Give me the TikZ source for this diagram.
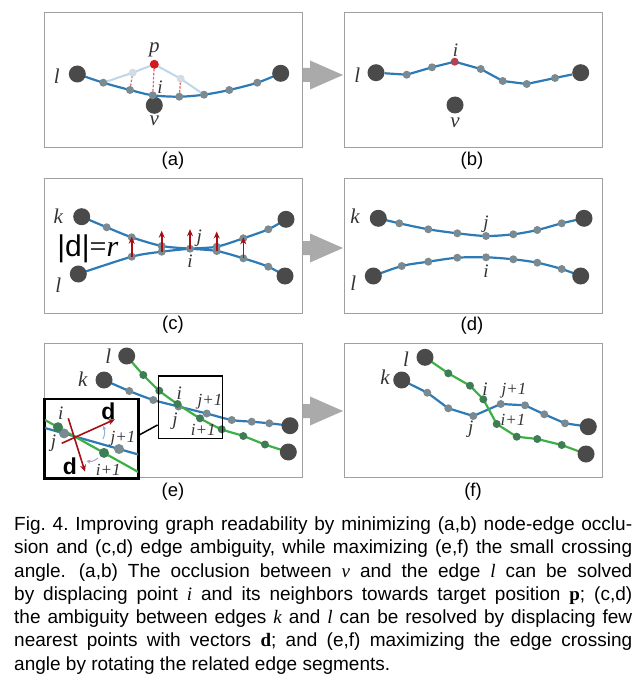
\documentclass[tikz,border=0pt]{standalone}
\usepackage{fontspec}
\setmainfont{Liberation Sans}
\newfontfamily\serf{Liberation Serif}
\usetikzlibrary{arrows.meta,backgrounds}
\definecolor{edgeblue}{HTML}{2C7BB6}
\definecolor{edgegreen}{HTML}{3DB045}
\definecolor{dotgray}{HTML}{7A8A90}
\definecolor{biggray}{HTML}{4A4A4A}
\definecolor{dotgreen}{HTML}{3E7D55}
\definecolor{framegray}{HTML}{A0A0A0}
\definecolor{arrowgray}{HTML}{AAAAAA}
\definecolor{darkred}{HTML}{A50F15}
\definecolor{pred}{HTML}{D7191C}
\definecolor{lightblue}{HTML}{BDD7EA}
\definecolor{lightdot}{HTML}{D3DCE3}
\definecolor{dashred}{HTML}{E06666}
\definecolor{ibrown}{HTML}{B0444F}
\definecolor{labcol}{HTML}{333333}
\definecolor{arcblue}{HTML}{8FB3D9}
\definecolor{arcpurple}{HTML}{B39AC0}
\tikzset{
 frame/.style={draw=framegray, line width=1pt},
 big/.style={circle, fill=biggray, minimum size=17pt, inner sep=0pt},
 dot/.style={circle, fill=dotgray, minimum size=8pt, inner sep=0pt},
 gdot/.style={circle, fill=dotgreen, minimum size=8pt, inner sep=0pt},
 bedge/.style={draw=edgeblue, line width=2.2pt},
 gedge/.style={draw=edgegreen, line width=2.2pt},
 lab/.style={font=\serf\itshape\fontsize{21}{21}\selectfont, text=labcol, inner sep=0pt},
 slab/.style={font=\serf\itshape\fontsize{19}{19}\selectfont, text=labcol, inner sep=0pt},
 tlab/.style={font=\serf\itshape\fontsize{17}{17}\selectfont, text=labcol, inner sep=0pt},
 sub/.style={font=\fontsize{18.5}{18.5}\selectfont, inner sep=0pt},
 dvec/.style={draw=darkred, line width=1.6pt, -{Stealth[length=7pt,width=6pt]}},
 dlab/.style={font=\bfseries\fontsize{23}{23}\selectfont, inner sep=0pt},
 blackbox/.style={draw=black, fill=white, line width=1.8pt, inner sep=0pt},
}
\begin{document}
\begin{tikzpicture}[x=1pt,y=-1pt]
\useasboundingbox (0,0) rectangle (642,682);
% ---------- frames ----------
\draw[frame] (44,13) rectangle (302,147);
\draw[frame] (344,13) rectangle (602,147);
\draw[frame] (44,178) rectangle (302,313);
\draw[frame] (344,178) rectangle (602,313);
\draw[frame] (44,343) rectangle (302,477);
\draw[frame] (344,343) rectangle (602,477);
% ---------- big grey arrows ----------
\foreach \c in {75,248,411}{
 \fill[arrowgray] (303,\c-7) -- (310,\c-7) -- (310,\c-14.5) -- (343,\c) -- (310,\c+14.5) -- (310,\c+7) -- (303,\c+7) -- cycle;
}
% ---------- sub labels ----------
\node[sub] (la) at (173,161) {(a)};
\node[sub] (lb) at (472,161) {(b)};
\node[sub] (lc) at (173,325) {(c)};
\node[sub] (ld) at (472,326) {(d)};
\node[sub] (le) at (173,492) {(e)};
\node[sub] (lf) at (473,492) {(f)};

% ================= (a) =================
\node[big] (av) at (154.3,105.3) {};
\node[big] (al) at (77.3,74) {};
\node[big] (ar) at (280.7,73.3) {};
\node[dot] (a1) at (103.3,82.7) {};
\node[dot] (a2) at (130,90) {};
\node[dot] (a3) at (152.7,95.3) {};
\node[dot] (a4) at (179.3,96.7) {};
\node[dot] (a5) at (204,94.7) {};
\node[dot] (a6) at (229.3,90) {};
\node[dot] (a7) at (257.3,82.7) {};
\node[circle, fill=lightdot, minimum size=8pt, inner sep=0pt] (q1) at (132.7,72.7) {};
\node[circle, fill=lightdot, minimum size=8pt, inner sep=0pt] (q2) at (180.7,78.7) {};
\node[circle, fill=pred, minimum size=9pt, inner sep=0pt] (ap) at (154.3,64.3) {};
\begin{scope}[on background layer]
 \draw[draw=lightblue, line width=2pt] (a1.center) -- (q1.center) -- (ap.center) -- (q2.center) -- (a5.center);
 \draw[bedge] plot[smooth] coordinates {(al.center) (a1.center) (a2.center) (a3.center) (a4.center) (a5.center) (a6.center) (a7.center) (ar.center)};
 \draw[draw=dashred, line width=1.2pt, dash pattern=on 2.5pt off 1.5pt] (a2.center) -- (q1.center);
 \draw[draw=dashred, line width=1.2pt, dash pattern=on 2.5pt off 1.5pt] (a3.center) -- (ap.center);
 \draw[draw=dashred, line width=1.2pt, dash pattern=on 2.5pt off 1.5pt] (a4.center) -- (q2.center);
\end{scope}
\node[lab] (tla) at (56.7,76) {l};
\node[lab] (tpa) at (154.3,50) {p};
\node[slab] (tia) at (160,87) {i};
\node[lab] (tva) at (154.3,121) {v};

% ================= (b) =================
\node[big] (bv) at (455,105) {};
\node[big] (bl) at (376,72.7) {};
\node[big] (br) at (580.7,72.7) {};
\node[dot] (b1) at (406.7,74.7) {};
\node[dot] (b2) at (432,67.3) {};
\node[circle, fill=ibrown, minimum size=8pt, inner sep=0pt] (bi) at (454.7,61.7) {};
\node[dot] (b3) at (480.7,69) {};
\node[dot] (b4) at (502.7,81) {};
\node[dot] (b5) at (526.7,84) {};
\node[dot] (b6) at (555,78) {};
\begin{scope}[on background layer]
 \draw[bedge] (bl) -- (b1.center) -- (b2.center) -- (bi.center) -- (b3.center) -- (b4.center) -- (b5.center) -- (b6.center) -- (br);
\end{scope}
\node[lab] (tlb) at (357.3,75) {l};
\node[slab] (tib) at (455.5,50) {i};
\node[lab] (tvb) at (455,123) {v};

% ================= (c) =================
\node[big] (ck) at (81.7,216.7) {};
\node[big] (cl) at (78.3,274) {};
\node[big] (crt) at (286,219.3) {};
\node[big] (crb) at (285,276) {};
\node[dot] (ck1) at (106.7,227.3) {};
\node[dot] (ck2) at (131.7,237.3) {};
\node[dot] (ck3) at (161.7,246) {};
\node[dot] (cc) at (190,248.7) {};
\node[dot] (ck5) at (216.7,251) {};
\node[dot] (ck6) at (243.3,258.3) {};
\node[dot] (ck7) at (268.3,266.7) {};
\node[dot] (cl2) at (131.7,256.7) {};
\node[dot] (cl3) at (161.7,251.7) {};
\node[dot] (cl5) at (216.7,246.7) {};
\node[dot] (cl6) at (243.3,238.3) {};
\node[dot] (cl7) at (268.3,229.3) {};
\begin{scope}[on background layer]
 \draw[bedge] plot[smooth] coordinates {(ck.center) (ck1.center) (ck2.center) (ck3.center) (cc.center) (ck5.center) (ck6.center) (ck7.center) (crb.center)};
 \draw[bedge] plot[smooth] coordinates {(cl.center) (cl2.center) (cl3.center) (cc.center) (cl5.center) (cl6.center) (cl7.center) (crt.center)};
\end{scope}
\draw[dvec] (cl2.center) -- ++(0,-20);
\draw[dvec] (cl3.center) -- ++(0,-21);
\draw[dvec] (cc.center) -- ++(0,-19.5);
\draw[dvec] (ck5.center) -- ++(0,-19.5);
\draw[dvec] (ck6.center) -- ++(0,-21);
\node[lab] (tkc) at (58.3,216.7) {k};
\node[lab] (tlc) at (58.3,285) {l};
\node[slab] (tjc) at (199.3,238.3) {j};
\node[slab] (tic) at (190,261) {i};
\node[font=\fontsize{30}{30}\selectfont, inner sep=0pt] (tdr) at (87.8,249) {|d|{\serf =\itshape r}};

% ================= (d) =================
\node[big] (dk) at (378.3,218.3) {};
\node[big] (dl) at (373.3,276) {};
\node[big] (drk) at (584,218.3) {};
\node[big] (drl) at (580.7,276) {};
\node[dot] (dk1) at (399.3,223.3) {};
\node[dot] (dk2) at (428.3,229.3) {};
\node[dot] (dk3) at (457.3,233.3) {};
\node[dot] (dk4) at (486,236) {};
\node[dot] (dk5) at (513.3,234.3) {};
\node[dot] (dk6) at (537.3,230) {};
\node[dot] (dk7) at (561.7,223.3) {};
\node[dot] (dl1) at (401.7,266) {};
\node[dot] (dl2) at (428.3,261.7) {};
\node[dot] (dl3) at (457.3,257.7) {};
\node[dot] (dl4) at (486,257.3) {};
\node[dot] (dl5) at (513.3,259.3) {};
\node[dot] (dl6) at (537.3,262.7) {};
\node[dot] (dl7) at (561.7,269) {};
\begin{scope}[on background layer]
 \draw[bedge] plot[smooth] coordinates {(dk.center) (dk1.center) (dk2.center) (dk3.center) (dk4.center) (dk5.center) (dk6.center) (dk7.center) (drk.center)};
 \draw[bedge] plot[smooth] coordinates {(dl.center) (dl1.center) (dl2.center) (dl3.center) (dl4.center) (dl5.center) (dl6.center) (dl7.center) (drl.center)};
\end{scope}
\node[lab] (tkd) at (355,216.7) {k};
\node[lab] (tld) at (353.3,283.3) {l};
\node[slab] (tjd) at (486,224) {j};
\node[slab] (tid) at (486,271.7) {i};

% ================= (e) =================
\node[big] (el) at (126.7,356) {};
\node[big] (ek) at (104,380) {};
\node[big] (erb) at (290,425.7) {};
\node[big] (erg) at (288.3,452) {};
\node[dot] (eb1) at (129.3,391) {};
\node[dot] (eb2) at (153.3,400) {};
\node[dot] (ej) at (178.5,406.5) {};
\node[dot] (ej1) at (206.7,413.5) {};
\node[dot] (eb5) at (231.7,420) {};
\node[dot] (eb6) at (251.7,421.7) {};
\node[dot] (eb7) at (269.3,423.3) {};
\node[gdot] (eg1) at (143.3,375) {};
\node[gdot] (eg2) at (159.3,390.7) {};
\node[gdot] (ei) at (177.5,404) {};
\node[gdot] (ei1) at (200,418.3) {};
\node[gdot] (eg5) at (221.7,429.3) {};
\node[gdot] (eg6) at (243.3,436) {};
\node[gdot] (eg7) at (265,444.5) {};
\begin{scope}[on background layer]
 \draw[bedge] plot[smooth] coordinates {(ek.center) (eb1.center) (eb2.center) (ej.center) (ej1.center) (eb5.center) (eb6.center) (eb7.center) (erb.center)};
 \draw[gedge] plot[smooth] coordinates {(el.center) (eg1.center) (eg2.center) (ei.center) (ei1.center) (eg5.center) (eg6.center) (eg7.center) (erg.center)};
\end{scope}
\node[lab] (tle) at (108.3,356) {l};
\node[lab] (tke) at (82.7,379.3) {k};
% small box
\node[draw=black, line width=1.5pt, minimum width=64.4pt, minimum height=62.3pt, inner sep=0pt] (sbox) at (190.5,407.2) {};
\node[slab] (tie) at (179.3,393) {i};
\node[slab] (tje) at (175,421.5) {j};
\node[tlab] (tj1e) at (210,401.7) {j+1};
\node[tlab] (ti1e) at (203.3,430) {i+1};
% inset
\node[blackbox, minimum width=93.3pt, minimum height=79pt] (inset) at (91.65,438.8) {};
\draw[black, line width=1.5pt] ([yshift=3.8pt]inset.east) -- ([yshift=-17.8pt]sbox.west);
\begin{scope}
 \clip (45,399.3) rectangle (138.3,478.3);
 \coordinate (gL) at (45,420);
 \coordinate (gR) at (138.3,472);
 \coordinate (bL) at (45,428);
 \coordinate (bR) at (138.3,454.5);
 \draw[edgeblue, line width=2.2pt] (bL) -- (bR);
 \draw[edgegreen, line width=2.2pt] (gL) -- (gR);
 \node[dot, minimum size=10pt] (ij) at (64,433.4) {};
 \node[gdot, minimum size=10pt] (ii) at (58,427.2) {};
 \node[dot, minimum size=10pt] (ij1) at (119,449) {};
 \node[gdot, minimum size=10pt] (ii1) at (104,452.9) {};
 \coordinate (d1s) at (61.7,443.3);
 \coordinate (d1e) at (115,419.3);
 \coordinate (d2s) at (68.3,418.3);
 \coordinate (d2e) at (85,471.7);
 \draw[dvec] (d1s) -- (d1e);
 \draw[dvec] (d2s) -- (d2e);
 \coordinate (a1s) at (103,439);
 \coordinate (a1e) at (103,426);
 \draw[arcblue, line width=1pt, -{Stealth[length=4pt,width=4pt]}] (a1s) to[bend right=25] (a1e);
 \coordinate (a2s) at (98,458);
 \coordinate (a2e) at (86.5,461);
 \draw[arcpurple, line width=1pt, -{Stealth[length=4pt,width=4pt]}] (a2s) to[bend left=25] (a2e);
\end{scope}
\draw[black, line width=1.8pt] (inset.north west) rectangle (inset.south east);
\node[slab] (tii) at (60.7,413.5) {i};
\node[slab] (tij) at (53.5,443.5) {j};
\node[tlab] (tij1) at (123,439) {j+1};
\node[tlab] (tii1) at (108.3,469.5) {i+1};
\node[dlab] (td1) at (108.5,411) {d};
\node[dlab] (td2) at (70,466) {d};

% ================= (f) =================
\node[big] (fl) at (425,357.3) {};
\node[big] (fk) at (401.7,380) {};
\node[big] (frb) at (588.3,426.7) {};
\node[big] (frg) at (586,454) {};
\node[dot] (fb1) at (427.3,392.7) {};
\node[dot] (fb2) at (448.3,408.3) {};
\node[dot] (fj) at (473.3,416) {};
\node[dot] (fj1) at (500.7,404) {};
\node[dot] (fb5) at (525,405.3) {};
\node[dot] (fb6) at (544.3,414.3) {};
\node[dot] (fb7) at (565,423.3) {};
\node[gdot] (fg1) at (448.3,373.3) {};
\node[gdot] (fg2) at (470,385.7) {};
\node[gdot] (fi) at (483.3,399.3) {};
\node[gdot] (fi1) at (496.7,424) {};
\node[gdot] (fg5) at (516.7,436.7) {};
\node[gdot] (fg6) at (537.3,439) {};
\node[gdot] (fg7) at (561.7,445) {};
\begin{scope}[on background layer]
 \draw[bedge] (fk.center) -- (fb1.center) -- (fb2.center) -- (fj.center) -- (fj1.center) -- (fb5.center) -- (fb6.center) -- (fb7.center) -- (frb.center);
 \draw[gedge] (fl.center) -- (fg1.center) -- (fg2.center) -- (fi.center) -- (fi1.center) -- (fg5.center) -- (fg6.center) -- (fg7.center) -- (frg.center);
\end{scope}
\node[lab] (tlf) at (406,359) {l};
\node[lab] (tkf) at (385,377.3) {k};
\node[slab] (tif) at (485,389) {i};
\node[tlab] (tj1f) at (514,390.7) {j+1};
\node[tlab] (ti1f) at (513,420) {i+1};
\node[slab] (tjf) at (470.7,429.5) {j};

% ================= caption =================
\node[anchor=north west, inner sep=0pt, text width=618pt, align=justify,
 font=\fontsize{19}{23.3}\selectfont] (cap) at (14,516.5)
{\tolerance=9999\hyphenpenalty=10000\exhyphenpenalty=10000\frenchspacing
Fig.~4. Improving graph readability by minimizing (a,b) node-edge occlu-\linebreak
sion and (c,d) edge ambiguity, while maximizing (e,f) the small crossing\linebreak
angle.\hspace{3pt} (a,b) The occlusion between {\serf\itshape v} and the edge {\serf\itshape l} can be solved\linebreak
by displacing point {\serf\itshape i} and its neighbors towards target position {\serf\bfseries p}; (c,d)\linebreak
the ambiguity between edges {\serf\itshape k} and {\serf\itshape l} can be resolved by displacing few\linebreak
nearest points with vectors {\serf\bfseries d}; and (e,f) maximizing the edge crossing\linebreak
angle by rotating the related edge segments.};
\end{tikzpicture}
\end{document}
